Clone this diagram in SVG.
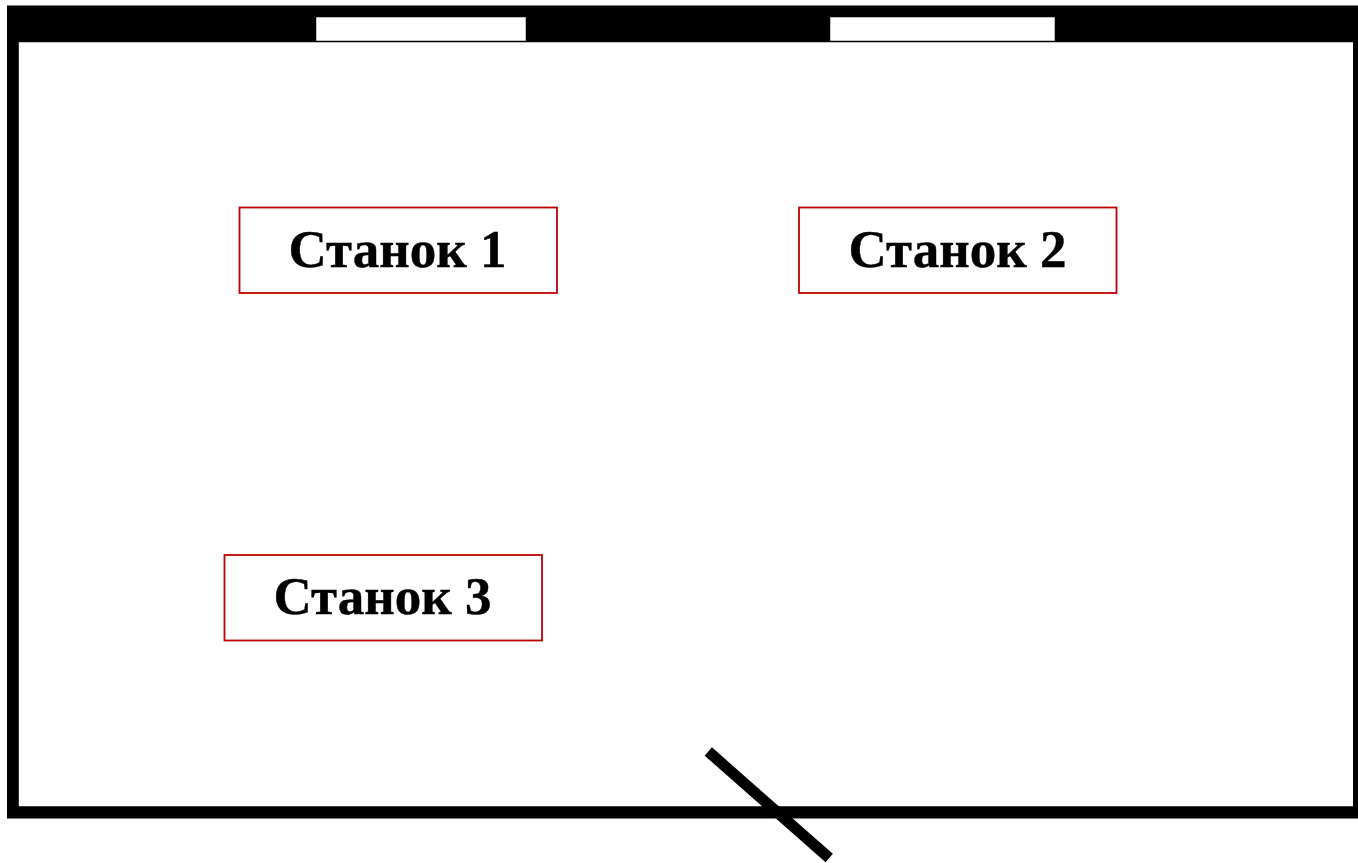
<svg xmlns="http://www.w3.org/2000/svg" width="1358" height="863" viewBox="0 0 1358 863">
<style>
.wall{fill:#000}
.win{fill:#fff;stroke:#000;stroke-width:.5}
.box{fill:#fff;stroke:#c00000;stroke-width:1.800}
.lbl{font-family:"Liberation Serif","Times New Roman",serif;font-weight:bold;font-size:53px;fill:#000;stroke:#000;stroke-width:.4;text-anchor:middle}
</style>
<rect width="1358" height="863" fill="#fff"/>
<g id="walls">
<path class="wall" fill-rule="evenodd" d="M7 5.500H1358V818.600H7ZM18.800 42.200V806.200H1353V42.200Z"/>
<rect class="win" x="316" y="17" width="210" height="24"/>
<rect class="win" x="830" y="17" width="225" height="24"/>
</g>
<g id="door"><line x1="708.300" y1="751.500" x2="829.200" y2="858" stroke="#000" stroke-width="11"/></g>
<g id="stanok1"><rect class="box" x="239.500" y="207.500" width="317.500" height="85.500"/><text class="lbl" x="397.500" y="266.500">Станок 1</text></g>
<g id="stanok2"><rect class="box" x="799" y="207.500" width="317.500" height="85.500"/><text class="lbl" x="957.500" y="266.500">Станок 2</text></g>
<g id="stanok3"><rect class="box" x="224.500" y="555" width="317.500" height="85.500"/><text class="lbl" x="382.500" y="613.500">Станок 3</text></g>
</svg>
